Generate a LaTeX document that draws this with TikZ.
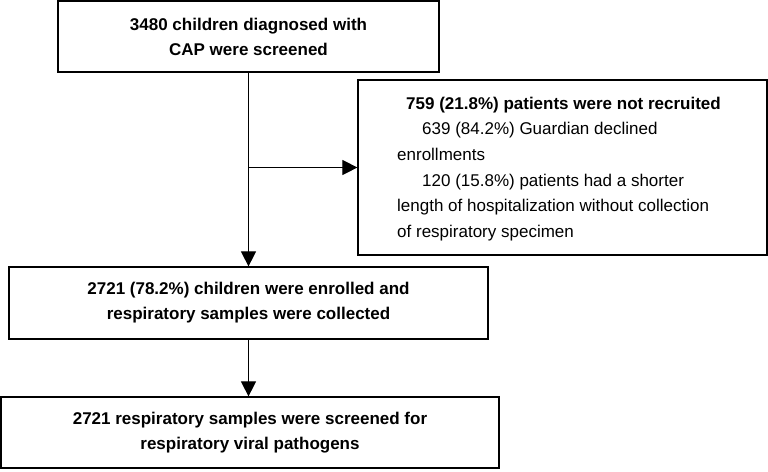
\documentclass[tikz,border=0pt]{standalone}
\usepackage{fontspec}
\setmainfont{Liberation Sans}
\usetikzlibrary{arrows.meta}
\tikzset{
  box/.style={draw=black, line width=1.2pt, inner sep=0pt, align=center,
    font=\fontsize{17}{25}\selectfont\bfseries},
  conn/.style={line width=1pt, -{Triangle[length=15pt,width=15pt]}},
  plain/.style={line width=1pt},
}
\begin{document}
\begin{tikzpicture}[x=1pt,y=-1pt]
\useasboundingbox (0,0) rectangle (768,471);
\node[box, minimum width=381pt, minimum height=71pt] (b1) at (248.5,36.5)
  {3480 children diagnosed with\\CAP were screened};
\node[box, minimum width=409pt, minimum height=175pt] (b2) at (562.5,167.5) {};
\node[anchor=west, inner sep=0pt, align=left, font=\fontsize{17}{25.6}\selectfont] (t2) at (397,169)
  {\hspace*{9pt}\textbf{759 (21.8\%) patients were not recruited}\\
   \hspace*{25pt}639 (84.2\%) Guardian declined\\
   enrollments\\
   \hspace*{25pt}120 (15.8\%) patients had a shorter\\
   length of hospitalization without collection\\
   of respiratory specimen};
\node[box, minimum width=479pt, minimum height=72pt] (b3) at (248.5,303)
  {2721 (78.2\%) children were enrolled and\\respiratory samples were collected};
\node[box, minimum width=498pt, minimum height=71pt] (b4) at (250,432.5)
  {2721 respiratory samples were screened for\\respiratory viral pathogens};
\coordinate (j) at (b1.south |- b2.west);
\draw[conn] (b1.south) -- (b3.north);
\draw[conn] (j) -- (b2.west);
\draw[conn] (b3.south) -- (b3.south |- b4.north);
\end{tikzpicture}
\end{document}
